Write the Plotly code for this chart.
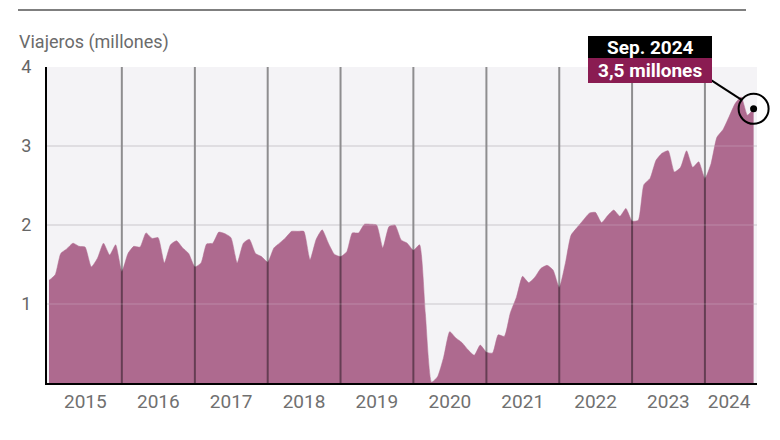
import pandas as pd
import plotly.graph_objects as go

# Monthly travellers (millions), Jan 2015 - Sep 2024
v2015 = [1.30, 1.37, 1.64, 1.70, 1.77, 1.73, 1.72, 1.47, 1.58, 1.77, 1.62, 1.75]
v2016 = [1.41, 1.64, 1.73, 1.72, 1.90, 1.83, 1.84, 1.52, 1.75, 1.80, 1.71, 1.64]
v2017 = [1.47, 1.52, 1.76, 1.77, 1.91, 1.89, 1.84, 1.52, 1.77, 1.82, 1.64, 1.60]
v2018 = [1.53, 1.71, 1.77, 1.84, 1.92, 1.92, 1.92, 1.56, 1.82, 1.94, 1.77, 1.63]
v2019 = [1.60, 1.66, 1.90, 1.90, 2.01, 2.01, 2.00, 1.71, 1.98, 2.00, 1.81, 1.77]
v2020 = [1.68, 1.75, 0.88, 0.01, 0.08, 0.33, 0.65, 0.57, 0.51, 0.42, 0.35, 0.48]
v2021 = [0.39, 0.38, 0.61, 0.59, 0.89, 1.09, 1.35, 1.27, 1.34, 1.45, 1.49, 1.43]
v2022 = [1.21, 1.52, 1.87, 1.97, 2.06, 2.15, 2.16, 2.03, 2.12, 2.19, 2.11, 2.21]
v2023 = [2.05, 2.06, 2.51, 2.59, 2.82, 2.91, 2.94, 2.67, 2.73, 2.94, 2.73, 2.80]
v2024 = [2.59, 2.78, 3.11, 3.21, 3.37, 3.54, 3.62, 3.39, 3.47]

values = v2015 + v2016 + v2017 + v2018 + v2019 + v2020 + v2021 + v2022 + v2023 + v2024
dates = pd.date_range("2015-01-01", periods=len(values), freq="MS")

year_labels = ["2015", "2016", "2017", "2018", "2019", "2020", "2021", "2022", "2023", "2024"]
year_label_pos = ["2015-07-02", "2016-07-02", "2017-07-02", "2018-07-02", "2019-07-02",
                  "2020-07-02", "2021-07-02", "2022-07-02", "2023-07-02", "2024-05-01"]
year_starts = ["%d-01-01" % y for y in range(2016, 2025)]
y_ticks = [1, 2, 3, 4]

last_label = "Sep. 2024"
last_value_label = "3,5 millones"

AREA = "#ae6a8f"
MAROON = "#8a1c52"
FONT = "Roboto"

X0, X1 = pd.Timestamp("2014-12-22"), pd.Timestamp("2024-09-18")
Y0, Y1 = 0.0, 4.0

# plot area geometry (px)
L, R, T, B = 47, 757, 67, 383


def px(xp):
    return (xp - L) / float(R - L)


def py(yp):
    return (B - yp) / float(B - T)


# paper position of the last data point (for unclipped decorations)
last_px = (dates[-1] - X0) / (X1 - X0)
last_py = (values[-1] - Y0) / (Y1 - Y0)

fig = go.Figure()
fig.add_trace(go.Scatter(
    x=dates, y=values, mode="lines", fill="tozeroy",
    line=dict(color=AREA, width=0.5, shape="spline", smoothing=0.5),
    fillcolor=AREA, hoverinfo="skip", showlegend=False,
))
fig.add_trace(go.Scatter(
    x=[dates[-1]], y=[values[-1]], mode="markers", cliponaxis=False,
    marker=dict(color="black", size=7), showlegend=False, hoverinfo="skip",
))

shapes = []
for d in year_starts:
    shapes.append(dict(type="line", xref="x", yref="y", x0=d, x1=d, y0=0, y1=4,
                       line=dict(color="rgba(0,0,0,0.42)", width=2), layer="above"))
for v in [1, 2, 3]:
    shapes.append(dict(type="line", xref="paper", yref="y", x0=0, x1=1, y0=v, y1=v,
                       line=dict(color="rgba(235,225,232,0.18)", width=1.5), layer="above"))
# circle around the last point
shapes.append(dict(type="circle", xref="paper", yref="paper", xsizemode="pixel", ysizemode="pixel",
                   xanchor=last_px, yanchor=last_py, x0=-15, x1=15, y0=-15, y1=15,
                   line=dict(color="black", width=2), layer="above"))
# leader line
shapes.append(dict(type="line", xref="paper", yref="paper", xsizemode="pixel", ysizemode="pixel",
                   xanchor=last_px, yanchor=last_py, x0=-46, y0=31, x1=-12, y1=9,
                   line=dict(color="black", width=2), layer="above"))

shapes.append(dict(type="rect", xref="paper", yref="paper", x0=px(588), x1=px(712),
                   y0=py(58), y1=py(36), fillcolor="black", line=dict(width=0), layer="above"))
shapes.append(dict(type="rect", xref="paper", yref="paper", x0=px(588), x1=px(712),
                   y0=py(83), y1=py(58), fillcolor=MAROON, line=dict(width=0), layer="above"))
# top rule
shapes.append(dict(type="line", xref="paper", yref="paper", x0=px(18), x1=px(746),
                   y0=py(10), y1=py(10), line=dict(color="#555555", width=1.5)))

annotations = [
    dict(text="Viajeros (millones)", xref="paper", yref="paper", x=px(17), y=py(42),
         xanchor="left", yanchor="middle", showarrow=False,
         font=dict(family=FONT, size=18, color="#6b6b6b")),
    dict(text="<b>%s</b>" % last_label, xref="paper", yref="paper", x=px(650), y=py(47),
         xanchor="center", yanchor="middle", showarrow=False,
         font=dict(family=FONT, size=19, color="white")),
    dict(text="<b>%s</b>" % last_value_label, xref="paper", yref="paper", x=px(650), y=py(70.5),
         xanchor="center", yanchor="middle", showarrow=False,
         font=dict(family=FONT, size=19, color="white")),
]

fig.update_layout(
    width=780, height=440,
    margin=dict(l=L, r=780 - R, t=T, b=440 - B),
    paper_bgcolor="white", plot_bgcolor="#f4f3f6",
    shapes=shapes, annotations=annotations,
    font=dict(family=FONT),
    xaxis=dict(
        type="date", range=[X0, X1],
        tickvals=year_label_pos, ticktext=year_labels,
        showgrid=False, zeroline=False, ticks="",
        showline=True, linecolor="black", linewidth=2,
        tickfont=dict(family=FONT, size=19, color="#707070"),
        ticklabelstandoff=0,
    ),
    yaxis=dict(
        range=[Y0, Y1], tickvals=y_ticks, ticktext=[str(t) for t in y_ticks],
        showgrid=True, gridcolor="#dedde0", gridwidth=1.5, zeroline=False,
        showline=True, linecolor="black", linewidth=2, ticks="",
        tickfont=dict(family=FONT, size=18, color="#666666"),
        ticklabelstandoff=10,
    ),
)

fig.write_html("out.html")
